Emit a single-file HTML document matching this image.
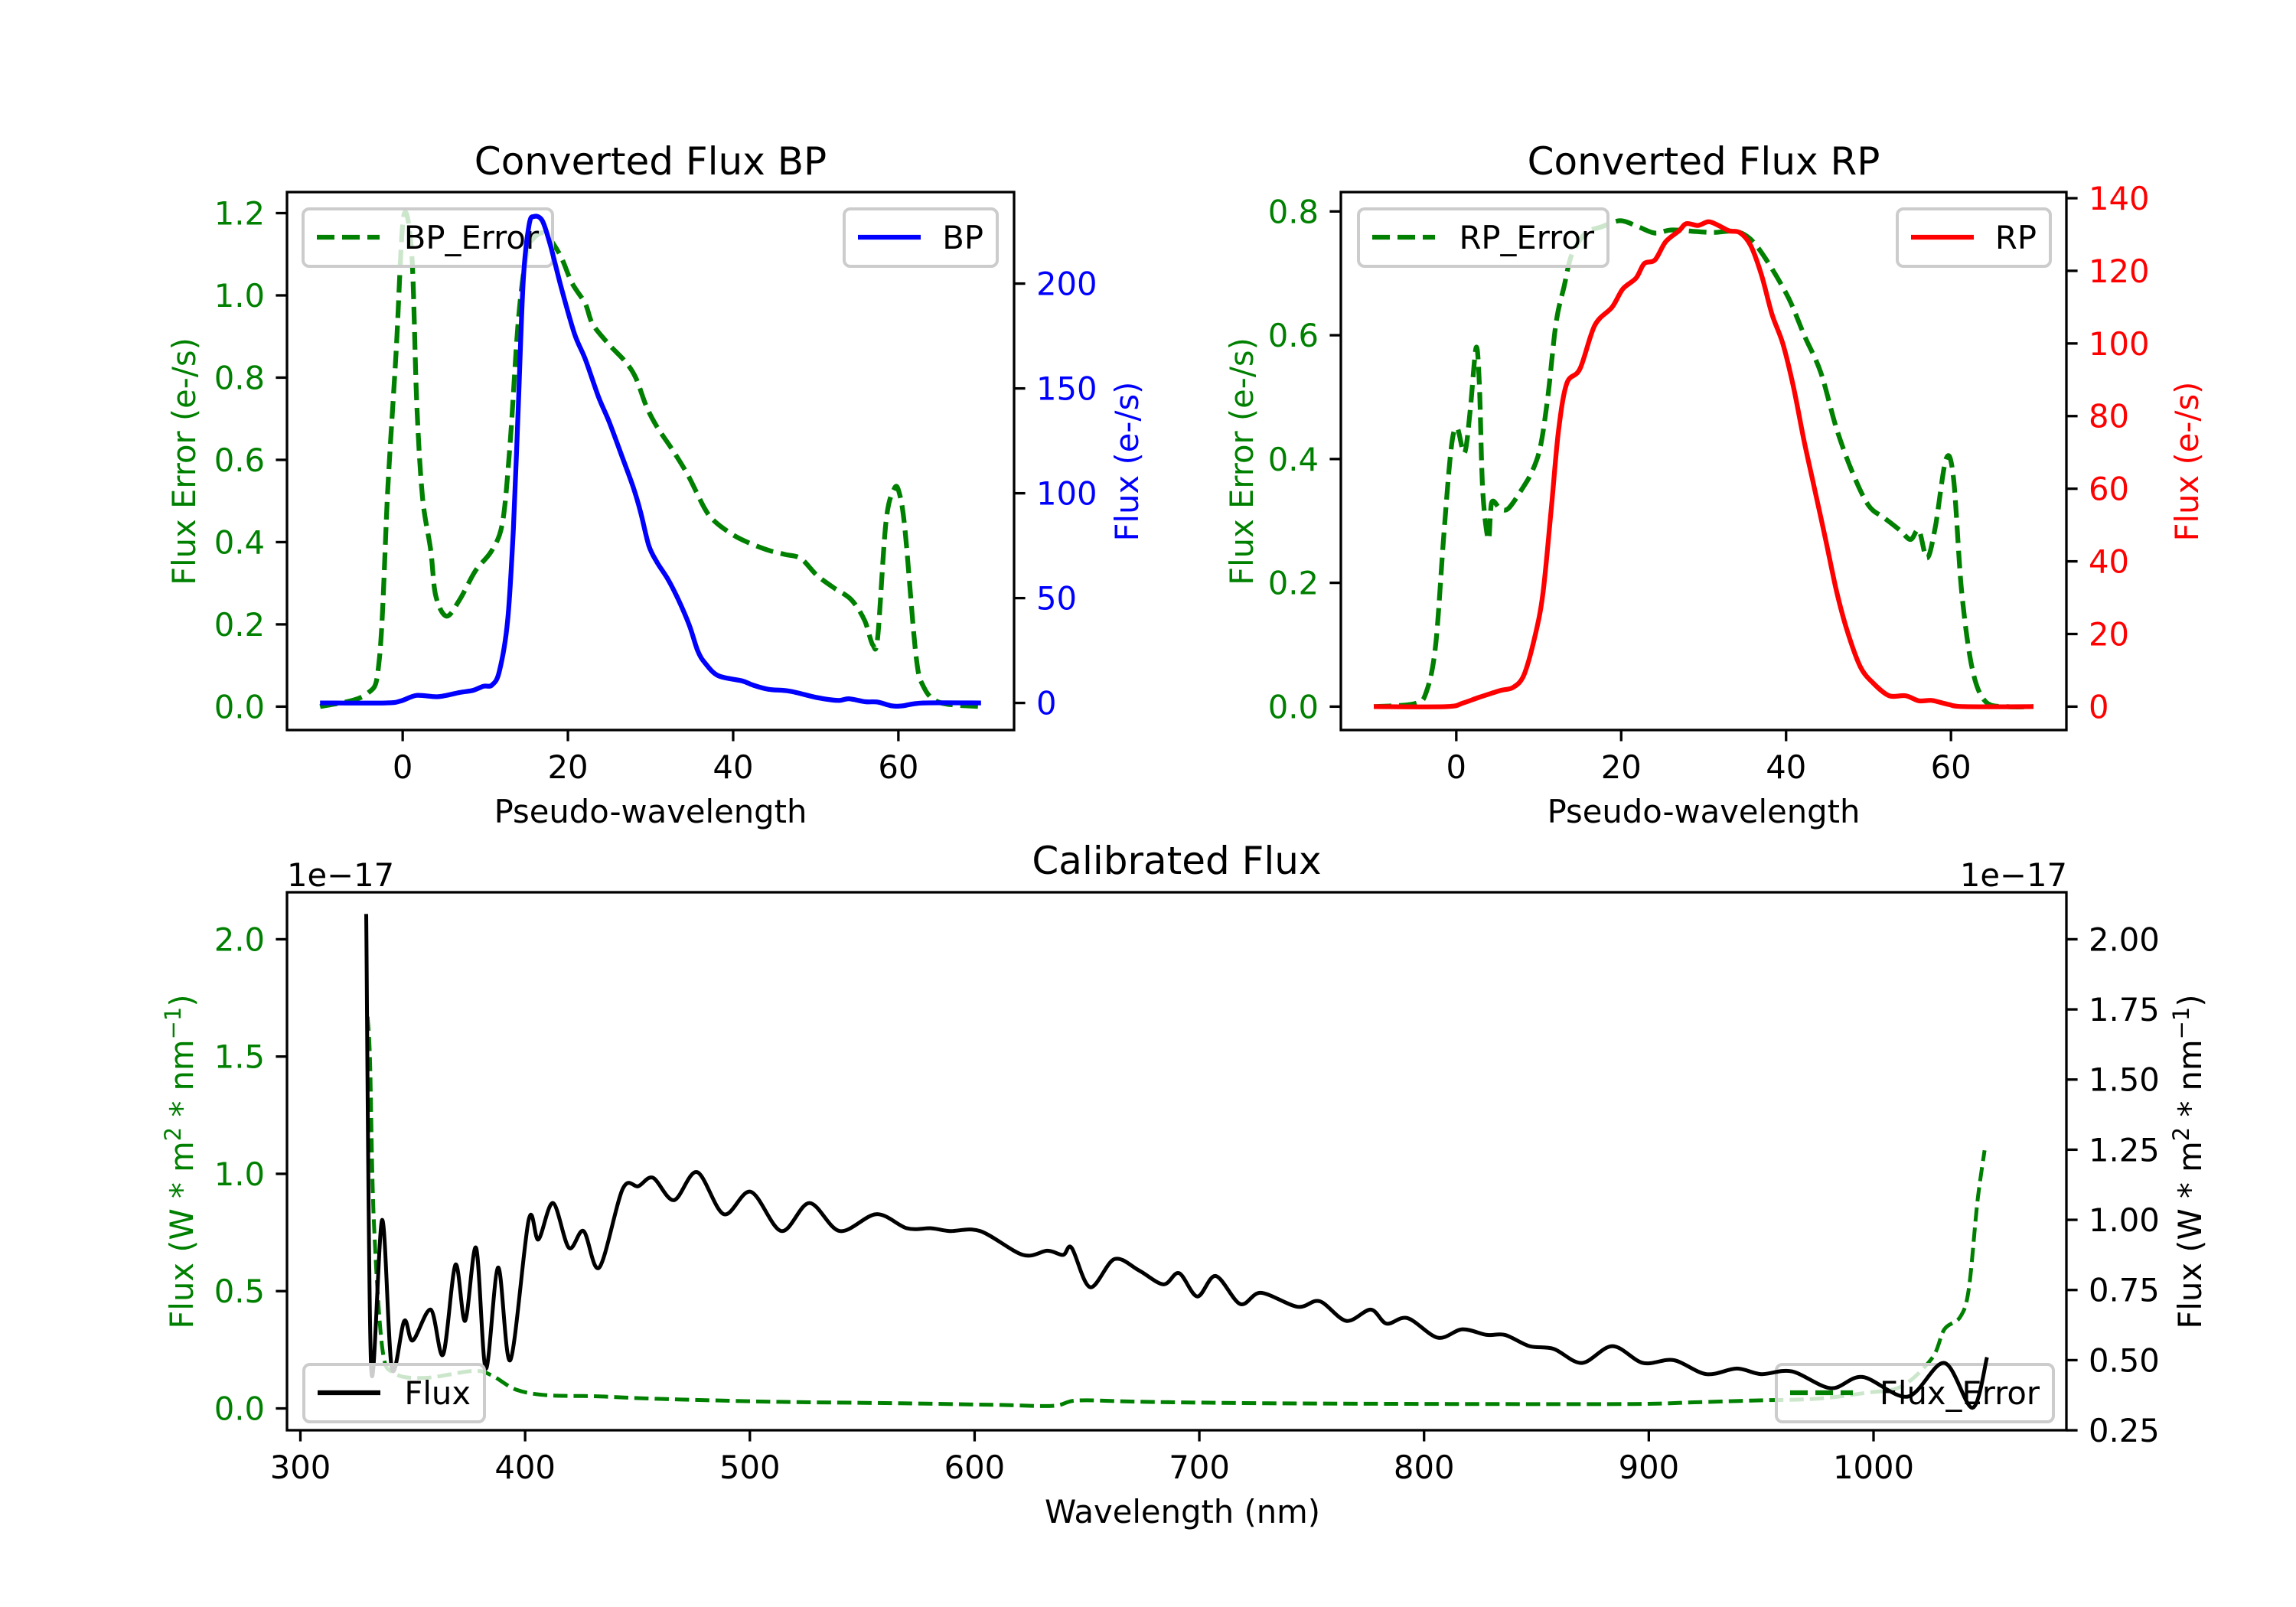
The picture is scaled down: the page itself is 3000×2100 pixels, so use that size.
<!DOCTYPE html>
<html><head><meta charset="utf-8">
<style>
html,body{margin:0;padding:0;background:#fff;}
svg{display:block;font-family:"DejaVu Sans","Liberation Sans",sans-serif;}
</style></head>
<body>
<svg id="fig" width="3000" height="2100" viewBox="0 0 3000 2100" xmlns="http://www.w3.org/2000/svg">
<rect width="3000" height="2100" fill="#fff"/>
</svg>
<script>
// ---------- BP panel data ----------
const bpErrX = [-10,-4.4,-2.8,-1.8,-0.8,0.1,1.1,1.7,2.4,3.4,4,5.3,6.9,8.8,10.8,12.1,13,14,15,15.9,17.2,19,20.5,22.1,23,25,26.9,28.2,29.5,30.8,32.8,34.6,36.6,37.8,39.8,41.7,44.3,46.3,48.2,50.1,52.1,54.3,55.9,56.9,57.5,58.5,59.5,60.1,60.8,62.1,63,65,70];
const bpErrY = [0,0.03,0.12,0.53,0.86,1.19,1.10,0.74,0.51,0.38,0.27,0.22,0.26,0.33,0.38,0.45,0.64,0.94,1.10,1.14,1.15,1.10,1.03,0.98,0.93,0.88,0.84,0.80,0.73,0.68,0.62,0.56,0.48,0.45,0.42,0.40,0.38,0.37,0.36,0.32,0.29,0.26,0.21,0.15,0.17,0.45,0.53,0.52,0.43,0.13,0.05,0.01,0];
const bpX = [-10,-2.1,-0.2,1.7,4.3,6.9,8.5,9.8,10.8,11.7,12.7,13.4,14,14.6,15.3,15.9,16.9,17.9,19.2,20.8,22.1,23.7,25,26.6,27.9,28.8,29.8,30.8,32.1,33.4,34.7,35.7,36.6,38.2,41.1,42.4,44.3,46.9,50.1,52.7,54,56,57.5,59.2,60.5,63,70];
const bpY = [0,0,1,3.6,3,5,6,8,8.5,15,39,83,142,202,228,232,230,218,198,176,164,146,134,117,103,91,75,67,59,49,37,25,19,13,10.5,8.5,6.5,5.6,2.6,1.2,2,0.6,0.4,-1.4,-1.4,0,0];
const bpXTicks = [0,20,40,60];
const bpErrTicks = [0.0,0.2,0.4,0.6,0.8,1.0,1.2];
const bpTicks = [0,50,100,150,200];
// ---------- RP panel data ----------
const rpErrX = [-10,-5,-3.6,-2.5,-1.5,-0.6,0.1,1,1.7,2.4,2.8,3.2,3.9,4.3,5.3,6.3,7.9,9.2,10.2,11.1,12.1,13.1,14,15.7,17.6,19.9,22.1,24.1,26,28.6,31.2,33.8,35.7,37.7,40.3,42.2,44.2,46.1,48,50,51.9,53.8,55.1,56.1,57.1,58.1,59.4,60.3,61.3,62.6,64.2,66.8,70];
const rpErrY = [0,0.005,0.025,0.1,0.28,0.42,0.45,0.41,0.48,0.58,0.52,0.35,0.27,0.33,0.32,0.32,0.35,0.38,0.42,0.50,0.62,0.68,0.73,0.765,0.775,0.785,0.775,0.765,0.77,0.768,0.766,0.768,0.755,0.72,0.66,0.60,0.54,0.45,0.38,0.325,0.305,0.285,0.27,0.285,0.24,0.29,0.40,0.37,0.185,0.06,0.008,0,0];
const rpX = [-10,-1.2,0.8,2.7,5.3,6.9,8.2,9.5,10.5,11.5,12.4,13.4,15,16.8,18.9,20.2,21.8,22.8,24.1,25.4,27,27.9,29.3,30.6,31.8,33.1,34.4,35.7,37,38.3,39.6,40.9,42.2,43.5,44.8,46.1,47.4,49,50.6,52.5,54.5,56.1,57.7,59.7,61.6,70];
const rpY = [0,0,1,2.5,4.4,5.3,8.7,19,31,54,76,89,93,105,110,115,118,122,123,128,131,133,132.5,133.5,132.5,131,130.5,127,119,108,100,88,73,59.5,46,32,21,11,6.4,3,3,1.6,1.7,0.6,0,0];
const rpXTicks = [0,20,40,60];
const rpErrTicks = [0.0,0.2,0.4,0.6,0.8];
const rpTicks = [0,20,40,60,80,100,120,140];
// ---------- Calibrated panel data ----------
const calX = [329.3,331.5,336.4,340.7,346.2,350,358,363.5,369,373.3,378.2,382.5,388,393.4,401.6,405.9,412.4,419.5,426,433,443.4,450.4,456.9,466.2,476.5,488.4,500.4,514,526.5,540,556.3,569.9,580.8,589,602.5,621.5,632.4,639.4,643.2,651.4,662.2,673.1,684,691,699.1,707.3,718.2,727.4,743.7,753.5,765.4,776.3,783.3,792.6,806.1,817,827.9,836,846.9,857.7,870.2,883.8,897.4,911,925.6,939.2,950,963.6,981,995.1,1015.2,1031.5,1044,1050.5];
const calFlux = [2.09,0.47,1.0,0.47,0.64,0.57,0.68,0.52,0.84,0.64,0.90,0.47,0.83,0.50,1.0,0.93,1.06,0.90,0.96,0.83,1.11,1.12,1.15,1.07,1.17,1.02,1.10,0.96,1.06,0.96,1.02,0.97,0.97,0.96,0.96,0.875,0.89,0.875,0.90,0.76,0.86,0.82,0.77,0.81,0.727,0.80,0.70,0.74,0.69,0.71,0.64,0.68,0.63,0.65,0.58,0.61,0.59,0.59,0.55,0.54,0.49,0.55,0.49,0.50,0.45,0.47,0.45,0.46,0.40,0.44,0.37,0.49,0.33,0.51];
const errX = [329.9,331,332.6,336.4,341.8,355.4,377,385.3,396,409.7,431.4,458.6,512.9,567.2,610.6,635,646,675.8,730.1,811.6,893,920.2,947.4,974.5,996.2,1012.5,1026.1,1031.5,1038.6,1042.4,1046.2,1049.4];
const errY = [1.67,1.48,0.82,0.26,0.15,0.13,0.16,0.14,0.08,0.056,0.052,0.041,0.028,0.022,0.015,0.011,0.034,0.028,0.022,0.019,0.019,0.026,0.034,0.041,0.066,0.094,0.215,0.337,0.39,0.51,0.88,1.10];
const calXTicks = [300,400,500,600,700,800,900,1000];
const errTicks = [0.0,0.5,1.0,1.5,2.0];
const fluxTicks = [0.25,0.50,0.75,1.00,1.25,1.50,1.75,2.00];

const NS = "http://www.w3.org/2000/svg";
const svg = document.getElementById('fig');
const FS = 41.7;
function mk(tag, attrs, parent){
  const e = document.createElementNS(NS, tag);
  for (const k in attrs) e.setAttribute(k, attrs[k]);
  (parent||svg).appendChild(e);
  return e;
}
function lin(d0,d1,p0,p1){ return v => p0 + (v-d0)*(p1-p0)/(d1-d0); }
function pathD(xs, ys, sx, sy, smooth){
  const P = xs.map((x,i)=>[sx(x), sy(ys[i])]);
  if (!smooth) return P.map((p,i)=>(i?'L':'M')+p[0].toFixed(1)+','+p[1].toFixed(1)).join(' ');
  let d = 'M'+P[0][0].toFixed(1)+','+P[0][1].toFixed(1);
  for (let i=0;i<P.length-1;i++){
    const p0 = P[Math.max(0,i-1)], p1=P[i], p2=P[i+1], p3=P[Math.min(P.length-1,i+2)];
    const t = 0.16;
    const c1 = [p1[0]+(p2[0]-p0[0])*t, p1[1]+(p2[1]-p0[1])*t];
    const c2 = [p2[0]-(p3[0]-p1[0])*t, p2[1]-(p3[1]-p1[1])*t];
    d += ' C'+c1[0].toFixed(1)+','+c1[1].toFixed(1)+' '+c2[0].toFixed(1)+','+c2[1].toFixed(1)+' '+p2[0].toFixed(1)+','+p2[1].toFixed(1);
  }
  return d;
}
function clipFor(id, L,T,R,B){
  const cp = mk('clipPath',{id:id});
  mk('rect',{x:L,y:T,width:R-L,height:B-T},cp);
}
function yTicks(ticks, sy, x, side, color, fmt, g){
  ticks.forEach(v=>{
    const y = sy(v);
    const dir = side==='left'?-1:1;
    const tk = mk('line',{x1:x,y1:y,x2:x+dir*14.6,y2:y,stroke:'#000','stroke-width':3.3},g);
    
    
    const t = mk('text',{x:x+dir*29,y:y+15,'font-size':FS,fill:color,'text-anchor':side==='left'?'end':'start'},g);
    t.textContent = fmt(v);
    
    
  });
}
function xTicks(ticks, sx, y, g){
  ticks.forEach(v=>{
    const x = sx(v);
    const tk = mk('line',{x1:x,y1:y,x2:x,y2:y+14.6,stroke:'#000','stroke-width':3.3},g);
    
    
    const t = mk('text',{x:x,y:y+63,'font-size':FS,fill:'#000','text-anchor':'middle'},g);
    t.textContent = String(v);
    
    
  });
}
function vlabel(x, y, text, color, name){
  const t = mk('text',{x:x,y:y,'font-size':FS,fill:color,'text-anchor':'middle',transform:`rotate(-90 ${x} ${y})`});
  t.textContent = text;
  
  
  return t;
}
function legend(x, y, w, label, color, dashed, name){
  const g = mk('g',{});
  
  
  mk('rect',{x:x,y:y,width:w,height:75,rx:8,fill:'#fff','fill-opacity':0.8,stroke:'#cccccc','stroke-width':4},g);
  const ln = mk('line',{x1:x+18,y1:y+37,x2:x+100,y2:y+37,stroke:color,'stroke-width':6.25},g);
  if (dashed) ln.setAttribute('stroke-dasharray','23 10');
  const t = mk('text',{x:x+w-18,y:y+52,'font-size':FS,fill:'#000','text-anchor':'end'},g);
  t.textContent = label;
}
function frame(L,T,R,B,name){
  const r = mk('rect',{x:L,y:T,width:R-L,height:B-T,fill:'none',stroke:'#000','stroke-width':3.3});
  
  
}

// ================= Panel 1: BP =================
(function(){
  const L=375,R=1325,T=251,B=954;
  const sx = lin(-14,74,L,R);
  const sy1 = lin(0,1.2,923.4,278.5);
  const sy2 = lin(0,200,918.6,370.6);
  clipFor('c1',L,T,R,B);
  const e = mk('path',{d:pathD(bpErrX,bpErrY,sx,sy1,true),fill:'none',stroke:'#008000','stroke-width':6.25,'stroke-dasharray':'23 10','clip-path':'url(#c1)'});
  
  
  legend(396,273,326,'BP_Error','#008000',true,'legend-bp-error');
  const b = mk('path',{d:pathD(bpX,bpY,sx,sy2,true),fill:'none',stroke:'#0000ff','stroke-width':6.25,'clip-path':'url(#c1)'});
  
  
  legend(1103,273,200,'BP','#0000ff',false,'legend-bp');
  frame(L,T,R,B,'bp-axes-frame');
  yTicks(bpErrTicks, sy1, L, 'left', '#008000', v=>v.toFixed(1));
  yTicks(bpTicks, sy2, R, 'right', '#0000ff', v=>String(v));
  xTicks(bpXTicks, sx, B);
  const ti = mk('text',{x:(L+R)/2,y:228,'font-size':50,'text-anchor':'middle'});
  ti.textContent='Converted Flux BP';
  
  
  const xl = mk('text',{x:(L+R)/2,y:1075,'font-size':FS,'text-anchor':'middle'});
  xl.textContent='Pseudo-wavelength';
  
  
  vlabel(255,603,'Flux Error (e-/s)','#008000','bp-left-y-axis-title');
  vlabel(1487,603,'Flux (e-/s)','#0000ff','bp-right-y-axis-title');
})();

// ================= Panel 2: RP =================
(function(){
  const L=1752,R=2700,T=251,B=954;
  const sx = lin(-14,74,L,R);
  const sy1 = lin(0,0.8,923.4,276.3);
  const sy2 = lin(0,140,923.4,259);
  clipFor('c2',L,T,R,B);
  const e = mk('path',{d:pathD(rpErrX,rpErrY,sx,sy1,true),fill:'none',stroke:'#008000','stroke-width':6.25,'stroke-dasharray':'23 10','clip-path':'url(#c2)'});
  
  
  legend(1775,273,326,'RP_Error','#008000',true,'legend-rp-error');
  const r = mk('path',{d:pathD(rpX,rpY,sx,sy2,true),fill:'none',stroke:'#ff0000','stroke-width':6.25,'clip-path':'url(#c2)'});
  
  
  legend(2479,273,200,'RP','#ff0000',false,'legend-rp');
  frame(L,T,R,B,'rp-axes-frame');
  yTicks(rpErrTicks, sy1, L, 'left', '#008000', v=>v.toFixed(1));
  yTicks(rpTicks, sy2, R, 'right', '#ff0000', v=>String(v));
  xTicks(rpXTicks, sx, B);
  const ti = mk('text',{x:(L+R)/2,y:228,'font-size':50,'text-anchor':'middle'});
  ti.textContent='Converted Flux RP';
  
  
  const xl = mk('text',{x:(L+R)/2,y:1075,'font-size':FS,'text-anchor':'middle'});
  xl.textContent='Pseudo-wavelength';
  
  
  vlabel(1637,603,'Flux Error (e-/s)','#008000','rp-left-y-axis-title');
  vlabel(2872,603,'Flux (e-/s)','#ff0000','rp-right-y-axis-title');
})();

// ================= Panel 3: Calibrated =================
(function(){
  const L=375,R=2700,T=1166,B=1869;
  const sx = lin(300,1000,392.5,2448);
  const sy1 = lin(0,2.0,1840.5,1227.4);
  const sy2 = lin(0.5,2.0,1777.4,1227.4);
  clipFor('c3',L,T,R,B);
  const e = mk('path',{d:pathD(errX,errY,sx,sy1,true),fill:'none',stroke:'#008000','stroke-width':5,'stroke-dasharray':'18.5 8','clip-path':'url(#c3)'});
  
  
  legend(2321,1783,362,'Flux_Error','#008000',true,'legend-flux-error');
  const f = mk('path',{d:pathD(calX,calFlux,sx,sy2,true),fill:'none',stroke:'#000','stroke-width':5,'stroke-linejoin':'round','clip-path':'url(#c3)'});
  
  
  legend(397,1783,236,'Flux','#000',false,'legend-flux');
  frame(L,T,R,B,'calibrated-axes-frame');
  yTicks(errTicks, sy1, L, 'left', '#008000', v=>v.toFixed(1));
  yTicks(fluxTicks, sy2, R, 'right', '#000', v=>v.toFixed(2));
  xTicks(calXTicks, sx, B);
  const ti = mk('text',{x:(L+R)/2,y:1142,'font-size':50,'text-anchor':'middle'});
  ti.textContent='Calibrated Flux';
  
  
  const o1 = mk('text',{x:375,y:1158,'font-size':FS});
  o1.textContent='1e\u221217';
  
  
  const o2 = mk('text',{x:2701,y:1158,'font-size':FS,'text-anchor':'end'});
  o2.textContent='1e\u221217';
  
  
  const xl = mk('text',{x:1545,y:1990,'font-size':FS,'text-anchor':'middle'});
  xl.textContent='Wavelength (nm)';
  
  
  function supLabel(x, y, color, name){
    const t = mk('text',{x:x,y:y,'font-size':FS,fill:color,'text-anchor':'middle',transform:`rotate(-90 ${x} ${y})`});
    
    
    const a = mk('tspan',{},t); a.textContent='Flux (W * m';
    const b = mk('tspan',{dy:-16,'font-size':29},t); b.textContent='2';
    const c = mk('tspan',{dy:16},t); c.textContent=' * nm';
    const d = mk('tspan',{dy:-16,'font-size':29},t); d.textContent='\u22121';
    const e2 = mk('tspan',{dy:16},t); e2.textContent=')';
  }
  supLabel(252,1518,'#008000','calibrated-left-y-axis-title');
  supLabel(2876,1518,'#000','calibrated-right-y-axis-title');
})();
</script>
</body></html>
